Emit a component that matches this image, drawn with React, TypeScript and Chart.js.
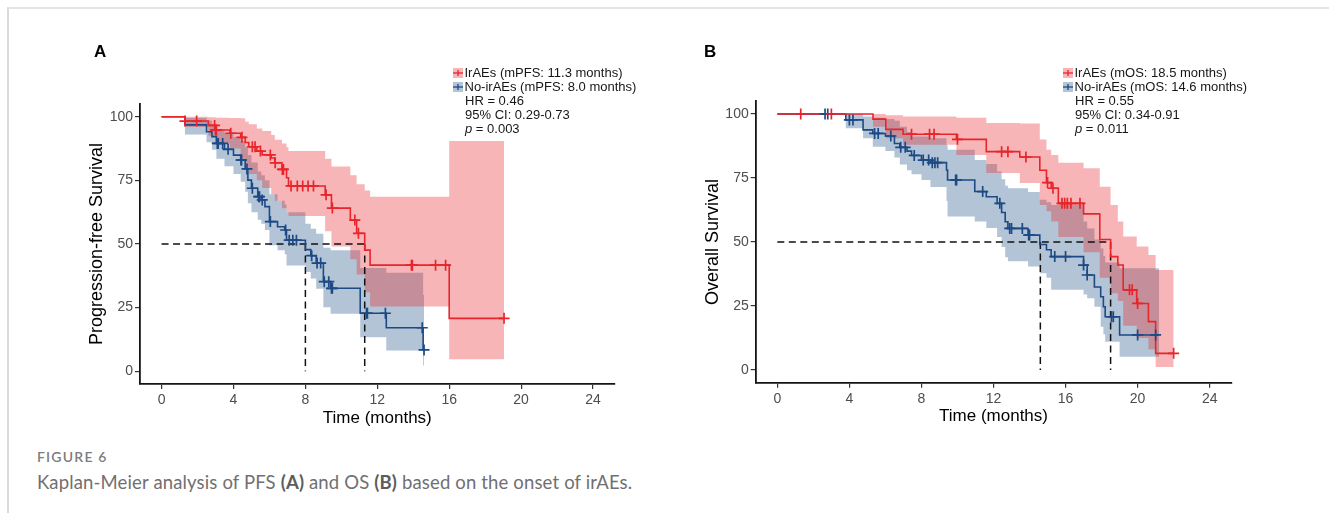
import React, { useEffect, useRef } from "react";
import { Chart, registerables } from "chart.js";

Chart.register(...registerables);

const FONT = "'Liberation Sans', Arial, Helvetica, sans-serif";

// ---------------- Axis ticks ----------------
const xTickValues = [0, 4, 8, 12, 16, 20, 24];
const yTickValues = [0, 25, 50, 75, 100];
const medianLevel = 50;

// ---------------- Panel A: Progression-free survival ----------------
const pfsIrTime = [0, 1.3, 2.6, 3.0, 3.8, 4.4, 4.65, 4.85, 5.3, 5.6, 6.1, 6.3, 6.7, 6.95, 7.06, 9.1, 9.45, 10.5, 10.85, 11.3, 11.6, 16.0, 19.05];
const pfsIrSurv = [100, 98.3, 96.6, 94.8, 93.5, 91.9, 89.9, 88.2, 86.5, 85.0, 83.8, 81.9, 79.3, 76.0, 72.8, 69.3, 64.1, 59.4, 54.2, 47.6, 41.7, 20.8, 20.8];
const pfsIrLower = [100, 96.0, 92.5, 89.5, 87.5, 83.5, 80.0, 77.5, 75.0, 72.0, 69.5, 67.0, 64.0, 62.5, 61.0, 55.0, 49.0, 44.0, 38.0, 31.0, 25.4, 4.7, 4.7];
const pfsIrUpper = [100, 100, 99.8, 99.6, 99.5, 99.4, 98.0, 97.0, 95.4, 94.4, 92.8, 91.0, 89.5, 88.0, 86.5, 83.5, 80.4, 77.0, 73.5, 71.0, 68.6, 90.5, 90.5];
const pfsIrCensor = [1.3, 1.95, 2.95, 3.0, 3.05, 3.85, 4.47, 5.05, 5.2, 5.5, 6.05, 6.32, 6.72, 6.78, 7.2, 7.55, 7.85, 8.15, 8.45, 9.15, 9.5, 10.75, 10.95, 13.9, 13.95, 15.24, 15.8, 19.05];

const pfsNoTime = [0, 1.3, 2.5, 2.8, 3.05, 3.5, 4.0, 4.4, 4.65, 4.8, 5.0, 5.35, 5.55, 5.75, 6.0, 6.45, 6.85, 6.95, 8.0, 8.3, 8.6, 9.0, 9.4, 11.05, 12.5, 14.55, 14.6];
const pfsNoSurv = [100, 96.8, 94.1, 92.2, 89.5, 87.2, 84.9, 83.0, 79.5, 75.1, 71.9, 68.6, 67.3, 64.7, 58.8, 56.8, 55.5, 51.5, 47.8, 45.4, 42.5, 35.2, 32.6, 22.8, 17.1, 8.4, 8.4];
const pfsNoLower = [100, 93.0, 90.0, 87.0, 83.5, 80.5, 77.5, 74.5, 70.5, 66.0, 62.5, 59.5, 58.0, 55.5, 49.5, 47.5, 46.0, 41.6, 39.0, 36.4, 32.4, 25.2, 22.6, 13.4, 8.2, 2.3, 2.3];
const pfsNoUpper = [100, 99.5, 98.5, 97.0, 95.0, 93.5, 92.0, 90.5, 88.0, 85.0, 82.0, 78.5, 77.0, 75.0, 69.5, 67.0, 65.5, 62.5, 58.0, 56.0, 54.0, 48.5, 47.5, 40.6, 38.7, 30.0, 30.0];
const pfsNoCensor = [3.1, 3.15, 3.4, 3.7, 4.42, 4.45, 4.75, 5.05, 5.4, 5.45, 5.6, 6.05, 6.9, 7.1, 7.3, 7.5, 8.35, 8.65, 8.85, 9.05, 9.3, 9.45, 9.5, 11.4, 11.45, 12.45, 14.5, 14.6];

const pfsMedians = [8.0, 11.3];

// ---------------- Panel B: Overall survival ----------------
const osIrTime = [0, 5.31, 6.02, 6.98, 9.94, 11.6, 13.46, 14.57, 14.94, 15.2, 15.6, 17.0, 17.9, 18.5, 18.9, 19.2, 19.95, 20.6, 21.0, 22.0];
const osIrSurv = [100, 98.0, 94.0, 92.1, 90.1, 85.3, 83.2, 78.0, 73.2, 71.0, 65.1, 61.0, 51.0, 44.3, 41.0, 31.3, 26.0, 18.9, 6.5, 6.5];
const osIrLower = [100, 95, 90.5, 88, 84, 77, 73, 64.5, 62, 58, 52, 46, 36, 30, 27, 17.3, 12.5, 8.1, 1.2, 1.2];
const osIrUpper = [100, 100, 99.5, 99, 98.5, 96.5, 96.3, 90, 86, 84, 81, 78.8, 71.6, 64.5, 58, 52.1, 48.2, 44.9, 39.1, 39.1];
const osIrCensor = [1.3, 3.0, 7.45, 8.45, 8.7, 10.0, 12.45, 12.8, 13.8, 15.0, 15.3, 15.8, 15.95, 16.1, 16.3, 16.8, 19.55, 19.7, 20.0, 22.0];

const osNoTime = [0, 3.8, 4.76, 5.3, 6.0, 6.5, 6.8, 7.2, 7.45, 8.0, 8.5, 9.39, 9.45, 10.96, 11.6, 12.2, 12.45, 12.65, 12.8, 13.92, 14.57, 14.94, 15.2, 17.0, 17.2, 17.6, 17.95, 18.1, 18.2, 19.0, 21.2];
const osNoSurv = [100, 97.7, 93.8, 92.4, 91.4, 88.5, 87.0, 85.5, 83.8, 82.0, 81.0, 78.1, 74.2, 69.7, 67.7, 65.1, 61.5, 57.9, 55.3, 52.7, 49.0, 47.0, 44.3, 41.0, 37.1, 32.4, 28.6, 24.7, 20.8, 13.7, 13.7];
const osNoLower = [100, 94.4, 90.5, 87.2, 85.5, 83, 80.3, 78, 76.5, 74.2, 71.5, 66, 60, 58, 55.5, 52, 48, 44, 42.5, 40.4, 37.8, 36, 31.3, 29.5, 28, 24.7, 16.9, 14, 11, 5.2, 5.2];
const osNoUpper = [100, 100, 99, 98.5, 98, 97.4, 95, 93, 91.2, 91.2, 90.5, 88, 86, 82, 80.5, 77.5, 74.5, 72, 71, 69.5, 66.5, 65.5, 64.5, 58, 55.3, 51, 47.5, 44.5, 42, 39.7, 39.7];
const osNoCensor = [2.65, 2.8, 4.0, 4.2, 5.4, 5.6, 6.3, 6.85, 7.1, 7.6, 8.1, 8.4, 8.6, 8.75, 8.9, 9.9, 9.95, 11.4, 12.35, 12.9, 13.0, 13.6, 13.95, 14.0, 15.4, 16.0, 17.0, 17.2, 18.55, 18.65, 20.0, 21.0];

const osMedians = [14.6, 18.5];

// ---------------- Text ----------------
const pfsLegend = ["IrAEs (mPFS: 11.3 months)", "No-irAEs (mPFS: 8.0 months)"];
const pfsStats = ["HR = 0.46", "95% CI: 0.29-0.73", "0.003"];
const osLegend = ["IrAEs (mOS: 18.5 months)", "No-irAEs (mOS: 14.6 months)"];
const osStats = ["HR = 0.55", "95% CI: 0.34-0.91", "0.011"];

// ---------------- Styles ----------------
const RED = "#E8252B";
const BLUE = "#1D4A85";
const RED_FILL = "rgba(232,37,43,0.34)";
const BLUE_FILL = "rgba(45,95,145,0.37)";

type Group = { time: number[]; surv: number[]; lower: number[]; upper: number[]; censor: number[] };

function stepAt(times: number[], vals: number[], t: number) {
  let v = vals[0];
  for (let i = 0; i < times.length; i++) if (times[i] <= t + 1e-9) v = vals[i];
  return v;
}
const toPts = (times: number[], vals: number[]) => times.map((t, i) => ({ x: t, y: vals[i] }));

type PanelSpec = {
  ir: Group;
  no: Group;
  medians: number[];
  yTitle: string;
  yWidth: number;
  xHeight: number;
  padTop: number;
  padRight: number;
  yTitlePad: number;
  xTitlePad: number;
};

function buildConfig(p: PanelSpec): any {
  const maxMed = Math.max(...p.medians);
  const lineBase = { showLine: true, pointRadius: 0, stepped: "before", fill: false, borderJoinStyle: "miter" };
  const datasets: any[] = [
    {
      data: p.ir.censor.map((t) => ({ x: t, y: stepAt(p.ir.time, p.ir.surv, t) })),
      showLine: false, pointStyle: "cross", pointRadius: 5.5, pointBorderWidth: 1.7,
      pointBorderColor: RED, borderColor: RED, order: 0,
    },
    {
      data: p.no.censor.map((t) => ({ x: t, y: stepAt(p.no.time, p.no.surv, t) })),
      showLine: false, pointStyle: "cross", pointRadius: 5.5, pointBorderWidth: 1.7,
      pointBorderColor: BLUE, borderColor: BLUE, order: 1,
    },
    { ...lineBase, data: toPts(p.ir.time, p.ir.surv), borderColor: RED, borderWidth: 1.6, order: 2 },
    { ...lineBase, data: toPts(p.no.time, p.no.surv), borderColor: BLUE, borderWidth: 1.6, order: 3 },
    {
      showLine: true, pointRadius: 0, fill: false, borderColor: "#111", borderWidth: 1.5, borderDash: [7, 4.5],
      data: [{ x: 0, y: medianLevel }, { x: maxMed, y: medianLevel }], order: 4,
    },
    ...p.medians.map((m) => ({
      showLine: true, pointRadius: 0, fill: false, borderColor: "#111", borderWidth: 1.5, borderDash: [7, 4.5],
      data: [{ x: m, y: medianLevel }, { x: m, y: 0 }], order: 4,
    })),
  ];
  datasets.push(
    { ...lineBase, data: toPts(p.ir.time, p.ir.upper), borderWidth: 0, borderColor: "rgba(0,0,0,0)", backgroundColor: RED_FILL, fill: "+1", order: 5 },
    { ...lineBase, data: toPts(p.ir.time, p.ir.lower), borderWidth: 0, borderColor: "rgba(0,0,0,0)", order: 5 },
    { ...lineBase, data: toPts(p.no.time, p.no.upper), borderWidth: 0, borderColor: "rgba(0,0,0,0)", backgroundColor: BLUE_FILL, fill: "+1", order: 6 },
    { ...lineBase, data: toPts(p.no.time, p.no.lower), borderWidth: 0, borderColor: "rgba(0,0,0,0)", order: 6 },
  );

  const tickFont = { family: FONT, size: 14 };
  const grid = { display: true, drawOnChartArea: false, drawTicks: true, tickLength: 5, color: "#333", lineWidth: 1.2 };
  const border = { display: true, color: "#141414", width: 1.8 };

  return {
    type: "line",
    data: { datasets },
    options: {
      animation: false,
      responsive: false,
      devicePixelRatio: 1,
      events: [],
      layout: { padding: { top: p.padTop, right: p.padRight, left: 0, bottom: 0 } },
      plugins: { legend: { display: false }, tooltip: { enabled: false }, title: { display: false } },
      scales: {
        x: {
          type: "linear",
          min: -1.2,
          max: 25.2,
          afterBuildTicks: (s: any) => { s.ticks = xTickValues.map((v) => ({ value: v })); },
          afterFit: (s: any) => { s.height = p.xHeight; },
          ticks: { color: "#4D4D4D", font: tickFont, padding: 2.5, maxRotation: 0, autoSkip: false },
          grid,
          border,
          title: { display: true, text: "Time (months)", color: "#000", font: { family: FONT, size: 17 }, padding: { top: 0, bottom: p.xTitlePad } },
        },
        y: {
          type: "linear",
          min: -5,
          max: 105,
          afterBuildTicks: (s: any) => { s.ticks = yTickValues.map((v) => ({ value: v })); },
          afterFit: (s: any) => { s.width = p.yWidth; },
          ticks: { color: "#4D4D4D", font: tickFont, padding: 2, autoSkip: false },
          grid,
          border,
          title: { display: true, text: p.yTitle, color: "#000", font: { family: FONT, size: 18 }, padding: { top: p.yTitlePad, bottom: 0 } },
        },
      },
    },
  };
}

function Panel({ spec, left, top }: { spec: PanelSpec; left: number; top: number }) {
  const ref = useRef<HTMLCanvasElement | null>(null);
  useEffect(() => {
    if (!ref.current) return;
    const chart = new Chart(ref.current, buildConfig(spec));
    return () => chart.destroy();
  }, [spec]);
  return (
    <canvas
      ref={ref}
      width={560}
      height={380}
      style={{ position: "absolute", left, top, width: 560, height: 380 }}
    />
  );
}

function LegendKey({ fill, color }: { fill: string; color: string }) {
  return (
    <svg width={10} height={10} style={{ position: "absolute", left: 0, top: 2, overflow: "visible" }}>
      <rect x={0} y={0} width={10} height={10} fill={fill} />
      <line x1={0} y1={5} x2={10} y2={5} stroke={color} strokeWidth={1.3} />
      <line x1={5} y1={2} x2={5} y2={8} stroke={color} strokeWidth={1.3} />
    </svg>
  );
}

function Legend({ left, labels, stats }: { left: number; labels: string[]; stats: string[] }) {
  const rowH = 14.2;
  const txt: React.CSSProperties = { fontFamily: FONT, fontSize: 13, color: "#161616", lineHeight: `${rowH}px`, whiteSpace: "nowrap" };
  return (
    <div style={{ position: "absolute", left, top: 65.6 }}>
      {labels.map((l, i) => (
        <div key={l} style={{ position: "relative", height: rowH, ...txt }}>
          <LegendKey fill={i === 0 ? RED_FILL : BLUE_FILL} color={i === 0 ? RED : BLUE} />
          <span style={{ position: "absolute", left: 11.5 }}>{l}</span>
        </div>
      ))}
      <div style={{ ...txt, height: rowH, paddingLeft: 12 }}>{stats[0]}</div>
      <div style={{ ...txt, height: rowH, paddingLeft: 12 }}>{stats[1]}</div>
      <div style={{ ...txt, height: rowH, paddingLeft: 12 }}>
        <i>p</i> = {stats[2]}
      </div>
    </div>
  );
}

const specA: PanelSpec = {
  ir: { time: pfsIrTime, surv: pfsIrSurv, lower: pfsIrLower, upper: pfsIrUpper, censor: pfsIrCensor },
  no: { time: pfsNoTime, surv: pfsNoSurv, lower: pfsNoLower, upper: pfsNoUpper, censor: pfsNoCensor },
  medians: pfsMedians,
  yTitle: "Progression-free Survival",
  yWidth: 70,
  xHeight: 56,
  padTop: 44,
  padRight: 15.4,
  yTitlePad: 16.2,
  xTitlePad: 11.8,
};

const specB: PanelSpec = {
  ir: { time: osIrTime, surv: osIrSurv, lower: osIrLower, upper: osIrUpper, censor: osIrCensor },
  no: { time: osNoTime, surv: osNoSurv, lower: osNoLower, upper: osNoUpper, censor: osNoCensor },
  medians: osMedians,
  yTitle: "Overall Survival",
  yWidth: 69.7,
  xHeight: 57.2,
  padTop: 41.2,
  padRight: 14.7,
  yTitlePad: 16.7,
  xTitlePad: 13.1,
};

export default function App() {
  const panelLetter: React.CSSProperties = {
    position: "absolute", top: 41.6, fontFamily: FONT, fontWeight: 700, fontSize: 17, color: "#000", lineHeight: "19px",
  };
  return (
    <div style={{ position: "fixed", left: 0, top: 0, width: 1329, height: 513, background: "#fff", overflow: "hidden" }}>
      <div style={{ position: "absolute", left: 7, top: 7, right: 0, bottom: 0, borderTop: "2px solid #e4e4e4", borderLeft: "2px solid #dadada" }} />
      <Panel spec={specA} left={70} top={60} />
      <Panel spec={specB} left={686} top={60} />
      <div style={{ ...panelLetter, left: 94 }}>A</div>
      <div style={{ ...panelLetter, left: 704 }}>B</div>
      <Legend left={453} labels={pfsLegend} stats={pfsStats} />
      <Legend left={1063} labels={osLegend} stats={osStats} />
      <div style={{ position: "absolute", left: 37, top: 449, fontFamily: "Lato, 'Open Sans', sans-serif", fontSize: 14, fontWeight: 600, lineHeight: "16px", color: "#7d7d7d", letterSpacing: 1.2 }}>
        FIGURE 6
      </div>
      <div style={{ position: "absolute", left: 37, top: 470.5, fontFamily: "Lato, 'Open Sans', sans-serif", fontSize: 18.5, lineHeight: "22px", color: "#707070", whiteSpace: "nowrap", letterSpacing: 0.15 }}>
        Kaplan-Meier analysis of PFS <b style={{ color: "#5c5c5c" }}>(A)</b> and OS <b style={{ color: "#5c5c5c" }}>(B)</b> based on the onset of irAEs.
      </div>
    </div>
  );
}
